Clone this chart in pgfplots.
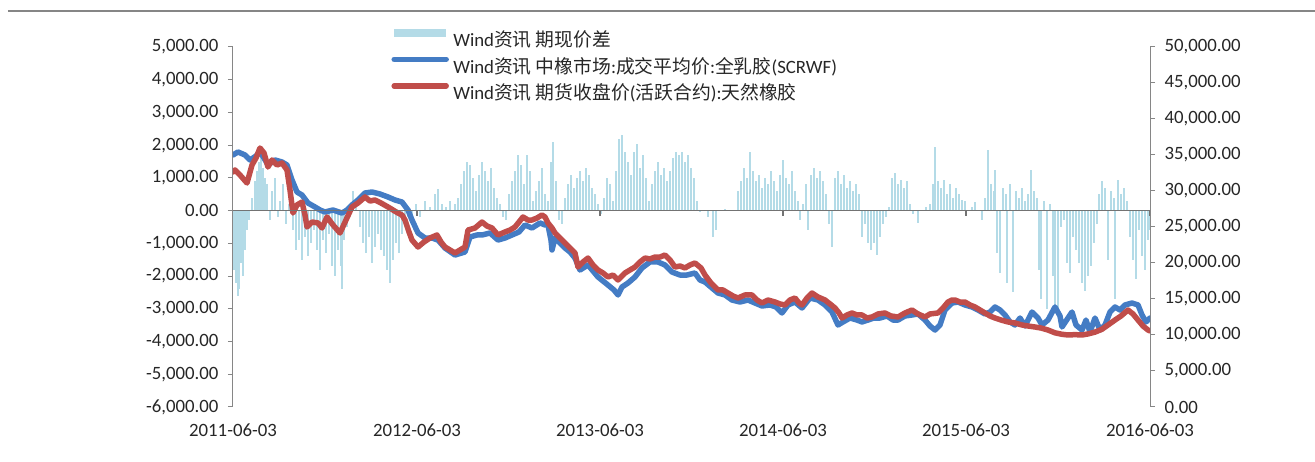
\documentclass[border=0pt]{standalone}
\usepackage{pgfplots}
\pgfplotsset{compat=1.18}
\usepackage{fontspec}
\setmainfont{Carlito}
\newfontfamily\cjk{Noto Sans CJK SC}
\definecolor{spreadblue}{RGB}{180,219,231}
\definecolor{lineblue}{RGB}{68,124,196}
\definecolor{linered}{RGB}{192,77,74}
\definecolor{axisgray}{RGB}{134,134,134}
\newcommand{\lab}{\fontsize{18.8}{22}\selectfont}
\pgfplotsset{
  base/.style={
    at={(0,0)}, anchor=south west, scale only axis,
    width=917pt, height=360pt, xmin=0, xmax=917,
    tick align=outside, major tick length=5pt,
    axis line style={draw=axisgray, line width=1pt},
    tick style={draw=axisgray, line width=1pt},
    tick label style={font=\lab, text=black!85},
    scaled y ticks=false,
    xtick={0,184,367,550,733,917},
  }
}
\begin{document}
\begin{tikzpicture}
\useasboundingbox (-233pt,-55pt) rectangle (1082pt,407pt);
% left axis: spread
\begin{axis}[base,
  ymin=-6000, ymax=5000,
  axis y line*=left, axis x line=none,
  ytick={-6000,-5000,...,5000},
  yticklabels={{-6,000.00},{-5,000.00},{-4,000.00},{-3,000.00},{-2,000.00},{-1,000.00},{0.00},{1,000.00},{2,000.00},{3,000.00},{4,000.00},{5,000.00}},
  yticklabel style={xshift=-6pt},
]
\addplot[ycomb, draw=spreadblue, line width=2pt, mark=none] coordinates {
(1,-1800) (3,-2200) (5,-2600) (6,-2400) (8,-1600) (10,-2000) (12,-1200) (14,-600) (16,-300) (19,400) (22,900) (24,1200) (26,1500) (28,1700) (30,1300) (32,1000) (34,800) (37,-300) (39,600) (42,1000) (45,-200) (47,300) (50,800) (53,-400) (56,200)
(60,-600) (63,-1200) (66,-900) (69,-1500) (72,-800) (75,-1400) (78,-1000) (81,-600) (84,-1200) (87,-1800) (90,-900) (93,-1300) (96,-700) (99,-1700) (102,-2000) (105,-1200) (108,-1700) (109,-2400) (111,-900) (114,-500) (117,200) (120,600) (123,300)
(127,-500) (130,-1000) (133,-1300) (136,-800) (139,-1600) (142,-1100) (145,-700) (148,-1200) (151,-1400) (154,-1800) (157,-2200) (160,-1500) (163,-1000) (166,-1300) (169,-700) (172,-400) (175,-200) (179,-300) (183,200) (187,-200) (192,300) (197,100) (202,500) (205,650) (209,200) (213,100)
(217,300) (222,200) (225,400) (228,800) (231,1200) (234,1500) (237,1400) (240,1000) (243,600) (246,1100) (249,1500) (252,1200) (255,900) (258,1300) (261,700) (264,400) (267,200) (270,-200) (273,-300) (276,500) (279,900) (282,1200) (285,1700) (288,1400) (291,800) (294,1700) (297,1200) (300,300)
(303,600) (306,900) (309,1300) (312,500) (315,300) (318,1500) (320,2100) (323,900) (326,-300) (329,-400) (332,400) (335,800) (338,1100) (341,700) (344,1000) (347,1200) (350,900) (353,1300) (356,1100) (359,700) (362,500) (365,200) (368,-100) (371,400) (374,1000) (377,800) (380,300)
(383,1200) (386,2200) (389,2300) (392,1800) (395,1500) (398,1100) (401,1800) (404,2050) (407,1300) (410,1700) (413,1000) (416,300) (419,800) (422,1200) (425,1500) (428,1100) (431,1300) (434,900) (437,1200) (440,1600) (443,1800) (446,1700) (449,1800) (452,1500) (455,1700) (458,1300) (461,1000) (464,300)
(467,-50) (475,-200) (480,-800) (483,-600) (492,50) (505,600) (508,900) (511,1300) (514,1000) (517,1800) (520,1200) (523,900) (526,1100) (529,700) (532,1000) (535,800) (538,1200) (541,900) (544,600) (547,1100) (550,1550) (553,1000) (556,800) (559,1200) (562,600) (565,300) (567,-300)
(570,200) (573,800) (575,-600) (578,1100) (581,1300) (584,1000) (587,1200) (590,900) (593,500) (596,-400) (599,-1100) (602,1000) (605,1200) (608,800) (611,1100) (614,700) (617,900) (620,600) (623,800) (626,500) (629,-800) (632,-400) (635,-1000) (638,-1200) (641,-1000) (644,-1350) (647,-800) (650,-400) (653,-200) (656,100)
(659,1000) (662,1150) (665,800) (668,950) (671,700) (674,900) (677,200) (680,-100) (685,-380) (693,100) (697,200) (700,800) (702,1950) (705,900) (708,700) (711,950) (714,500) (717,800) (720,400) (723,700) (726,500) (729,330) (732,300) (739,100) (742,250) (749,-300) (752,400)
(755,1850) (758,800) (761,600) (762,1250) (764,-1300) (767,-1900) (770,700) (773,500) (774,-2200) (777,800) (780,-2500) (783,600) (786,400) (789,700) (792,300) (795,500) (798,1250) (801,600) (804,400) (806,-1800) (808,-2700) (811,300) (814,-3000) (817,200) (820,-2000) (822,-2950) (825,-3200)
(828,-500) (831,-300) (834,-1600) (837,-1900) (840,-800) (843,-1200) (846,-1600) (849,-2200) (852,-2450) (855,-2000) (858,-1700) (861,-1000) (864,-400) (866,500) (869,900) (872,700) (875,-1500) (878,600) (881,400) (882,-2700) (885,950) (888,500) (891,700) (894,300)
(897,-800) (900,-1500) (903,-2100) (906,-600) (909,-1400) (912,-1800) (915,-900) (917,-600)
};
% year ticks below the zero line
\addplot[ycomb, draw=black!55, line width=1.2pt, mark=none] coordinates {(184,-160) (367,-160) (550,-160) (733,-160) (917,-160)};
\end{axis}
% right axis: prices
\begin{axis}[base,
  ymin=0, ymax=50000,
  axis y line*=right, axis x line*=bottom,
  x axis line style={draw=none}, xtick style={draw=none},
  xticklabels={2011-06-03,2012-06-03,2013-06-03,2014-06-03,2015-06-03,2016-06-03},
  xticklabel style={yshift=-8pt},
  ytick={0,5000,...,50000},
  yticklabels={{0.00},{5,000.00},{10,000.00},{15,000.00},{20,000.00},{25,000.00},{30,000.00},{35,000.00},{40,000.00},{45,000.00},{50,000.00}},
  yticklabel style={xshift=6pt},
  legend style={draw=none, fill=none, at={(0.1712,0.95)}, anchor=west,
    inner sep=0pt, row sep=8.5pt, column sep=0pt, font=\lab, text=black!85,
    nodes={inner sep=0pt}},
  legend cell align=left,
  legend image code/.code={\draw[#1] (0pt,6.5pt) -- (52pt,6.5pt);},
]
\addlegendimage{draw=spreadblue, line width=8pt}
\addlegendentry{\,Wind{\cjk 资讯 期现价差}}
\addplot[lineblue, line width=5.5pt, line join=round, line cap=round, mark=none] coordinates {
(0,35000) (5,35420) (12,35000) (17,34310) (23,34860) (27,35420) (31,34580) (35,33610) (42,34310) (49,34030) (54,33610) (59,31530) (64,29860) (69,29440) (75,28330) (82,27780) (87,27360) (92,27080) (100,27360) (109,26940) (114,27360) (119,28060) (125,28750)
(132,29720) (139,29860) (147,29580) (155,29170) (162,28750) (169,28470) (175,27360) (179,25970) (185,24170) (192,23470) (199,23470) (205,23190) (212,22080) (222,21110) (232,21530) (237,23610) (244,23890) (249,23890) (257,24170) (265,23190) (272,23470) (279,23890) (286,24310)
(292,25280) (299,24860) (307,25560) (312,25280) (315,25280) (318,23190) (319,21810) (322,23470) (327,22780) (332,22080) (337,21530) (342,20690) (347,19030) (355,19720) (365,18060) (375,16940) (381,16250) (385,15560) (389,16670) (395,17220) (402,18060) (409,19310) (417,20140)
(425,20140) (432,19720) (439,18750) (447,18330) (454,18330) (462,18610) (467,17640) (472,17360) (479,16530) (485,15830) (492,15560) (499,14860) (507,14580) (515,14860) (522,14440) (529,14030) (537,14170) (543,13890) (549,13060) (555,14170) (562,14580) (569,13750) (577,15140)
(585,14860) (592,14170) (599,13190) (605,11390) (610,11810) (617,12360) (624,12080) (629,11810) (635,12080) (641,12360) (647,12360) (654,12640) (660,12080) (665,12080) (672,12640) (679,12780) (685,12920) (692,12080) (697,11250) (702,10690) (707,11390) (712,13470) (719,14440)
(725,14580) (732,14170) (739,13890) (745,13470) (752,12920) (757,13190) (762,13890) (767,13470) (772,12780) (777,11810) (782,11390) (787,12360) (792,11250) (799,13190) (805,12360) (809,11390) (815,12080) (822,13890) (827,12640) (829,11110) (835,12360) (839,13190) (843,11390)
(849,10690) (853,12080) (857,10420) (862,12360) (867,10690) (872,11390) (877,13190) (882,13890) (887,13470) (892,14170) (899,14440) (905,14170) (909,12780) (913,11810) (917,12360)
};
\addlegendentry{\,Wind{\cjk 资讯 中橡市场}:{\cjk 成交平均价}:{\cjk 全乳胶}(SCRWF)}
\addplot[linered, line width=5.5pt, line join=round, line cap=round, mark=none] coordinates {
(0,32640) (2,32920) (7,32220) (14,31110) (19,33610) (23,34580) (27,35970) (31,35280) (35,33330) (39,34310) (44,33610) (49,33890) (54,32920) (57,30140) (60,26940) (64,28060) (69,28470) (72,26670) (74,25000) (79,25690) (85,25560) (89,24860) (94,26390) (100,25280)
(107,24170) (113,25970) (119,27780) (125,28330) (132,29170) (137,28610) (142,28750) (148,28330) (155,27780) (160,27360) (165,26940) (169,26670) (172,25970) (176,24310) (179,23190) (185,22220) (191,22920) (197,23470) (204,23890) (208,22920) (212,22220) (217,21810) (222,21390)
(227,21810) (232,22220) (235,24580) (242,24860) (249,25690) (254,25140) (259,24860) (265,23890) (272,24310) (277,24580) (282,25000) (286,25690) (290,26390) (295,25970) (299,25970) (304,26250) (309,26670) (312,26390) (315,25560) (319,24860) (322,24170) (327,23470) (332,22780)
(337,22080) (342,21390) (345,19440) (350,20140) (355,20690) (360,19720) (365,19030) (370,18610) (375,18060) (380,18330) (385,17640) (389,18190) (392,18610) (397,19030) (402,19440) (407,20140) (412,20690) (417,20560) (422,20830) (427,20830) (432,21110) (437,20420) (442,19440)
(447,19580) (452,19310) (457,19720) (462,20000) (468,19310) (472,18330) (478,17220) (485,16250) (490,16250) (495,15830) (500,15420) (505,15140) (512,15560) (519,15560) (524,14860) (529,14440) (535,14860) (542,14580) (547,14310) (552,14170) (557,14860) (562,15140) (566,14440)
(569,14170) (574,15140) (579,15830) (585,15280) (592,14860) (597,14310) (602,13750) (606,13060) (609,12360) (614,12780) (619,13060) (624,12780) (629,12780) (634,12360) (639,12500) (645,12920) (652,13060) (658,12640) (665,12500) (672,13060) (679,13470) (685,12920) (692,12500)
(697,12920) (705,13060) (710,13750) (715,14580) (719,14860) (722,14860) (727,14580) (732,14580) (737,14170) (742,13890) (747,13470) (752,13060) (757,12640) (762,12360) (768,12080) (775,11810) (782,11670) (789,11390) (795,11250) (802,11110) (808,10970) (815,10690) (822,10300)
(829,10100) (835,10000) (842,10050) (849,10000) (855,10150) (862,10400) (869,10800) (875,11390) (882,12080) (888,12640) (895,13470) (900,12920) (905,12080) (910,11250) (915,10690) (917,10560)
};
\addlegendentry{\,Wind{\cjk 资讯 期货收盘价}({\cjk 活跃合约}):{\cjk 天然橡胶}}
\end{axis}
% zero line of the left axis, drawn last (0 lies at 6/11 of the 360pt axis height)
\draw[black!55, line width=1.5pt] (0pt,196.4pt) -- (917pt,196.4pt);
\draw[axisgray, line width=1.2pt] (-225pt,396pt) -- (1082pt,396pt);
\end{tikzpicture}
\end{document}
